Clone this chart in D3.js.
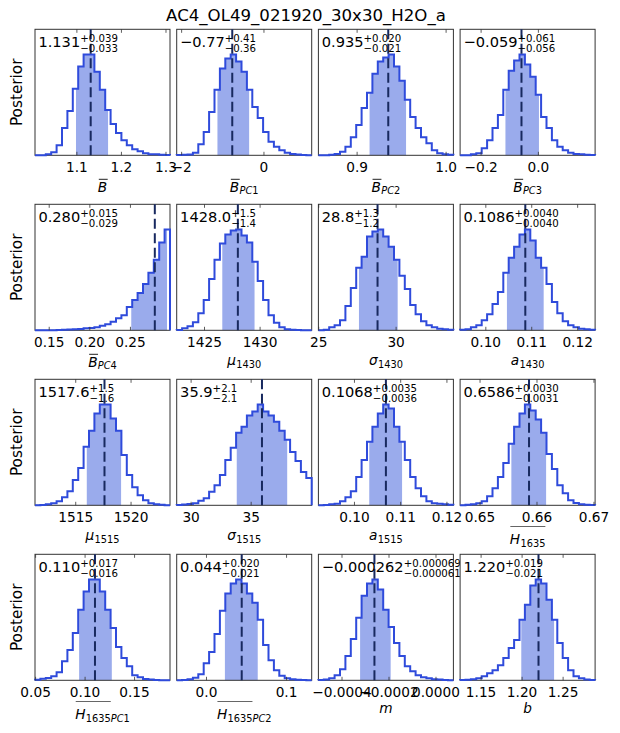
<!DOCTYPE html>
<html>
<head>
<meta charset="utf-8">
<script src="https://cdn.jsdelivr.net/npm/d3@7"></script>
<style>
body { margin: 0; background: #fff; }
svg text { font-family: "DejaVu Sans", sans-serif; fill: #000; }
</style>
</head>
<body>
<div id="chart"></div>
<script>
var title = "AC4_OL49_021920_30x30_H2O_a";

// x-label of each panel: symbol, subscript, overline (1 = over symbol, 2 = over symbol and "1635")
var symbols = ["B", "B", "B", "B", "B", "μ", "σ", "a", "μ", "σ", "a", "H", "H", "H", "m", "b"];
var subscripts = ["", "PC1", "PC2", "PC3", "PC4", "1430", "1430", "1430", "1515", "1515", "1515", "1635", "1635PC1", "1635PC2", "", ""];
var overlines = [1, 1, 1, 1, 1, 0, 0, 0, 0, 0, 0, 2, 2, 2, 0, 0];

// axis range of each panel (histogram bins span it)
var domains = [
    [1.006, 1.309], [-2.12, 1.16], [0.8565, 1.0082], [-0.2733, 0.198],
    [0.1325, 0.2987], [1422.5, 1434.64], [24.98, 33.7], [0.0944, 0.1238],
    [1511.32, 1523.52], [28.80, 40.04], [0.0922, 0.1214], [0.6465, 0.6702],
    [0.0494, 0.1858], [-0.0372, 0.1314], [-0.0005005, 0.0000741], [1.1244, 1.289]
];

var tickValues = [
    [1.1, 1.2, 1.3], [-2, 0], [0.9, 1.0], [-0.2, 0.0],
    [0.15, 0.20, 0.25], [1425, 1430], [25, 30], [0.10, 0.11, 0.12],
    [1515, 1520], [30, 35], [0.10, 0.11, 0.12], [0.65, 0.66, 0.67],
    [0.05, 0.10, 0.15], [0.0, 0.1], [-0.0004, -0.0002, 0.0], [1.15, 1.20, 1.25]
];
var tickLabels = [
    ["1.1", "1.2", "1.3"], ["−2", "0"], ["0.9", "1.0"], ["−0.2", "0.0"],
    ["0.15", "0.20", "0.25"], ["1425", "1430"], ["25", "30"], ["0.10", "0.11", "0.12"],
    ["1515", "1520"], ["30", "35"], ["0.10", "0.11", "0.12"], ["0.65", "0.66", "0.67"],
    ["0.05", "0.10", "0.15"], ["0.0", "0.1"], ["−0.0004", "−0.0002", "0.0000"], ["1.15", "1.20", "1.25"]
];

// median and 68% interval
var medians = [1.131, -0.77, 0.935, -0.059, 0.280, 1428.0, 28.8, 0.1086, 1517.6, 35.9, 0.1068, 0.6586, 0.110, 0.044, -0.000262, 1.220];
var errPlus = [0.039, 0.41, 0.020, 0.061, 0.015, 1.5, 1.3, 0.0040, 1.5, 2.1, 0.0035, 0.0030, 0.017, 0.020, 0.000069, 0.019];
var errMinus = [0.033, 0.36, 0.021, 0.056, 0.029, 1.4, 1.2, 0.0040, 1.6, 2.1, 0.0036, 0.0031, 0.016, 0.021, 0.000061, 0.021];
var decimals = [3, 2, 3, 3, 3, 1, 1, 4, 1, 1, 4, 4, 3, 3, 6, 3];

// posterior histograms, 25 bins each, relative heights
var counts = [
    [0, 0, 1, 3, 10, 27, 44, 66, 88, 100, 100, 83, 65, 45, 31, 22, 15, 10, 6, 4, 2, 1, 1, 0.5, 0.3],
    [0.3, 0.5, 0.7, 2.6, 11, 23, 43, 65, 86, 96, 100, 93, 83, 65, 48, 37, 23, 13.5, 8.6, 5, 2.6, 1.3, 0.7, 0.3, 0],
    [0, 0, 0.5, 1.3, 3.6, 8.6, 18, 30, 47, 62, 81, 93, 97, 100, 88, 74, 55, 38, 27, 18, 12, 5, 2, 1, 0.5],
    [0, 0, 1, 2, 7, 15, 27, 40, 65, 84, 94, 100, 90, 78, 60, 38, 27, 15, 8.6, 5, 2.6, 1.3, 1, 0.5, 0.3],
    [0, 0, 0, 0, 0.3, 0.5, 0.7, 1, 1.3, 2, 2.3, 3, 4.5, 6, 8.5, 12, 15, 23, 30, 37, 46, 57, 70, 87, 100],
    [0.3, 2, 4, 8, 17, 30, 51, 70, 86, 95, 99, 100, 94, 87, 68, 49, 30, 15, 7.5, 3, 1, 0.5, 0.3, 0, 0],
    [0, 0.5, 3, 5, 10, 24, 42, 62, 73, 93, 98, 100, 93, 83, 70, 54, 41, 25, 16, 9, 5, 3, 1.5, 1, 0.5],
    [0.5, 1, 3, 5, 10, 16, 26, 38, 57, 72, 83, 95, 100, 89, 72, 62, 46, 28, 17, 9, 5, 3, 1.5, 1, 0.5],
    [0, 0.3, 1, 2, 4, 8, 14, 25, 37, 58, 74, 91, 100, 100, 86, 74, 50, 30, 18, 10, 5, 2, 1, 0.5, 0],
    [0.3, 0.7, 1.3, 2, 4.6, 7, 13.5, 20, 30, 45, 57, 72, 78, 89, 93, 100, 93, 89, 83, 74, 65, 53, 44, 33, 27],
    [0, 0.3, 1, 1.6, 4, 8, 14, 28, 45, 63, 78, 91, 100, 96, 78, 63, 45, 28, 17, 9, 4, 2, 1.5, 1, 0.5],
    [0, 0.5, 1, 2, 4, 9, 17, 28, 42, 61, 78, 91, 100, 94, 85, 72, 51, 36, 20, 12, 5, 2.3, 1, 0.5, 0.3],
    [0.5, 1.5, 2.3, 4, 8, 19, 30, 47, 70, 88, 100, 100, 88, 70, 52, 33, 22, 14, 5, 3, 1.3, 0.7, 0.3, 0, 0],
    [0, 0.3, 1, 2.5, 6, 17, 28, 46, 69, 86, 96, 100, 96, 86, 77, 60, 35, 20, 10, 4.6, 2, 1, 0.5, 0.3, 0],
    [0.3, 0.7, 2, 5, 11, 24, 41, 62, 84, 96, 100, 90, 70, 53, 37, 24, 14, 9, 5, 3, 2, 1, 0.7, 0.3, 0],
    [0.3, 0.5, 1, 2, 4, 7, 10, 15, 22, 32, 40, 60, 75, 94, 100, 96, 80, 60, 37, 22, 10, 4, 2, 0.7, 0.3]
];

var width = 620, height = 733;
var panelW = 135, panelH = 126;
var left0 = 35, top0 = 29.3, stepX = 141.7, stepY = 175;
var lineColor = "#2f4bdb", fillColor = "#9aabec", medColor = "#18295f";

var svg = d3.select("#chart").append("svg")
    .attr("width", width)
    .attr("height", height);

svg.append("rect")
    .attr("width", width)
    .attr("height", height)
    .attr("fill", "#fff");

svg.append("text")
    .attr("x", 306)
    .attr("y", 20.7)
    .attr("text-anchor", "middle")
    .style("font-size", "16.6px")
    .text(title);

function fmt(v, d) {
    return d3.format("." + d + "f")(v).replace("-", "−");
}

function drawLabel(g, i, cx, base) {
    var lab = g.append("g");
    var sym = lab.append("text")
        .attr("x", 0)
        .attr("y", 0)
        .style("font-size", "13.7px")
        .style("font-style", "italic")
        .text(symbols[i]);
    var w = sym.node().getComputedTextLength();
    var total = w;
    var sub = null;
    if (subscripts[i]) {
        sub = lab.append("text")
            .attr("x", w + 0.3)
            .attr("y", 2.6)
            .style("font-size", "9.8px");
        subscripts[i].split("").forEach(function(ch) {
            sub.append("tspan")
                .style("font-style", /[A-Za-z]/.test(ch) ? "italic" : "normal")
                .text(ch);
        });
        total = w + 0.3 + sub.node().getComputedTextLength();
    }
    if (overlines[i] === 1) {
        lab.append("line")
            .attr("x1", 1).attr("x2", w + 0.5)
            .attr("y1", -12.4).attr("y2", -12.4)
            .attr("stroke", "#222").attr("stroke-width", 1);
    } else if (overlines[i] === 2) {
        var ow = w + 0.3 + sub.node().getSubStringLength(0, 4);
        lab.append("line")
            .attr("x1", 0.5).attr("x2", ow)
            .attr("y1", -17.4).attr("y2", -17.4)
            .attr("stroke", "#666").attr("stroke-width", 1);
    }
    lab.attr("transform", "translate(" + (cx - total / 2) + "," + base + ")");
}

symbols.forEach(function(s, i) {
    var r = Math.floor(i / 4), c = i % 4;
    var x0 = left0 + c * stepX, y0 = top0 + r * stepY;
    var g = svg.append("g")
        .attr("transform", "translate(" + x0 + "," + y0 + ")");

    var n = counts[i].length;
    var x = d3.scaleLinear().domain(domains[i]).range([0, panelW]);
    var y = d3.scaleLinear().domain([0, d3.max(counts[i]) * 1.25]).range([panelH, 0]);
    var edges = d3.range(n + 1).map(function(k) {
        return domains[i][0] + k * (domains[i][1] - domains[i][0]) / n;
    });
    var binOf = function(v) {
        return Math.max(0, Math.min(n - 1, Math.floor((v - edges[0]) / (edges[1] - edges[0]))));
    };

    g.append("rect")
        .attr("width", panelW)
        .attr("height", panelH)
        .attr("fill", "#fff");

    // shaded 68% interval under the histogram
    var lo = medians[i] - errMinus[i], hi = medians[i] + errPlus[i];
    var shade = [[lo, counts[i][binOf(lo)]]];
    edges.forEach(function(e, k) {
        if (e > lo && e < hi) shade.push([e, counts[i][k]]);
    });
    shade.push([hi, counts[i][binOf(hi)]]);
    g.append("path")
        .datum(shade)
        .attr("d", d3.area()
            .x(function(d) { return x(d[0]); })
            .y0(y(0))
            .y1(function(d) { return y(d[1]); })
            .curve(d3.curveStepAfter))
        .attr("fill", fillColor);

    // frame
    g.append("rect")
        .attr("width", panelW)
        .attr("height", panelH)
        .attr("fill", "none")
        .attr("stroke", "#333")
        .attr("stroke-width", 1);

    // step histogram
    var pts = [[edges[0], 0]]
        .concat(counts[i].map(function(v, k) { return [edges[k], v]; }))
        .concat([[edges[n], counts[i][n - 1]], [edges[n], 0]]);
    g.append("path")
        .datum(pts)
        .attr("d", d3.line()
            .x(function(d) { return x(d[0]); })
            .y(function(d) { return y(d[1]); })
            .curve(d3.curveStepAfter))
        .attr("fill", "none")
        .attr("stroke", lineColor)
        .attr("stroke-width", 2);

    // median
    g.append("line")
        .attr("x1", x(medians[i])).attr("x2", x(medians[i]))
        .attr("y1", 0).attr("y2", panelH)
        .attr("stroke", medColor)
        .attr("stroke-width", 2)
        .attr("stroke-dasharray", "10,4.5");

    // ticks, inward on top and bottom
    tickValues[i].forEach(function(t, k) {
        var tx = x(t);
        g.append("line")
            .attr("x1", tx).attr("x2", tx)
            .attr("y1", panelH).attr("y2", panelH - 3.5)
            .attr("stroke", "#333").attr("stroke-width", 0.8);
        g.append("line")
            .attr("x1", tx).attr("x2", tx)
            .attr("y1", 0).attr("y2", 3.5)
            .attr("stroke", "#333").attr("stroke-width", 0.8);
        g.append("text")
            .attr("x", tx)
            .attr("y", panelH + 16.6)
            .attr("text-anchor", "middle")
            .style("font-size", "13.7px")
            .text(tickLabels[i][k]);
    });

    // annotation: median with errors
    var main = g.append("text")
        .attr("x", 3.4)
        .attr("y", 17.6)
        .style("font-size", "14.6px")
        .text(fmt(medians[i], decimals[i]));
    var mw = main.node().getComputedTextLength();
    g.append("text")
        .attr("x", 3.4 + mw)
        .attr("y", 12.3)
        .style("font-size", "10.2px")
        .text("+" + fmt(errPlus[i], decimals[i]));
    g.append("text")
        .attr("x", 3.4 + mw)
        .attr("y", 22.4)
        .style("font-size", "10.2px")
        .text("−" + fmt(errMinus[i], decimals[i]));

    // x label
    var base = 32.6;
    if (overlines[i] === 1) base = 36.4;
    else if (overlines[i] === 2) base = 38.6;
    else if (subscripts[i]) base = 35;
    drawLabel(g, i, panelW / 2, panelH + base);

    if (c === 0) {
        g.append("text")
            .attr("transform", "translate(" + (-13.5) + "," + (panelH / 2) + ") rotate(-90)")
            .attr("text-anchor", "middle")
            .style("font-size", "15.3px")
            .text("Posterior");
    }
});
</script>
</body>
</html>
